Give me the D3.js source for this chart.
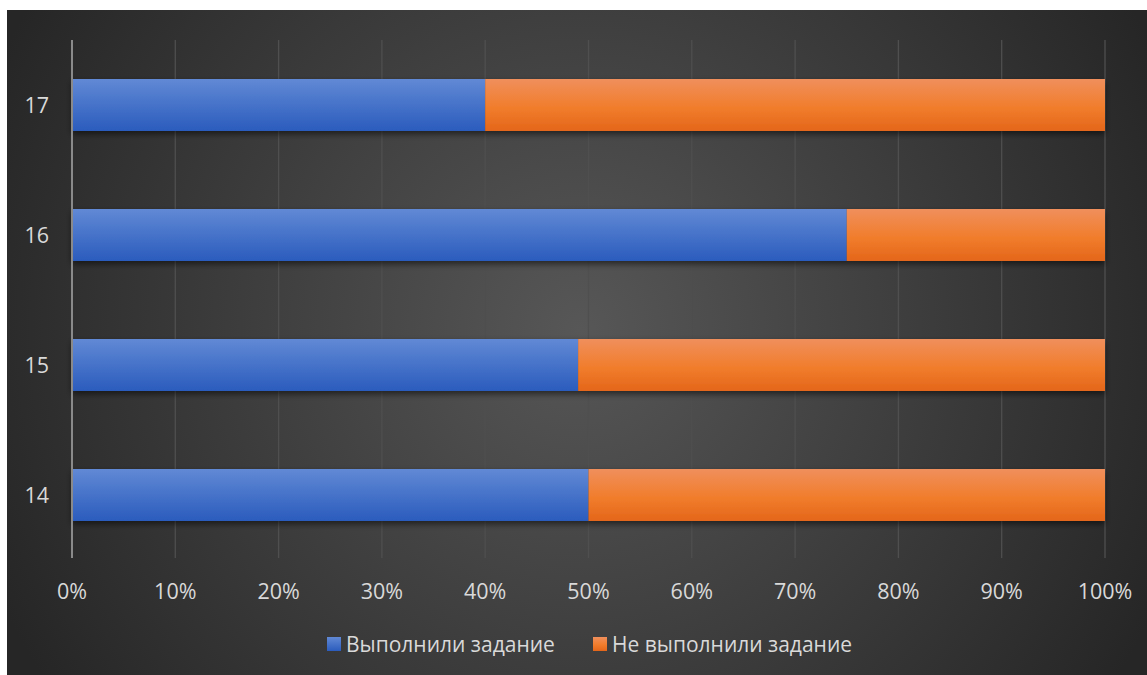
<!DOCTYPE html>
<html><head><meta charset="utf-8">
<script src="https://cdn.jsdelivr.net/npm/d3@7"></script>
<style>
html,body{margin:0;padding:0;background:#fff;}
svg{display:block;font-family:"Open Sans","Noto Sans",sans-serif;}
</style></head>
<body>
<svg id="chart" width="1147" height="675"></svg>
<script>
const categories = ["14", "15", "16", "17"];
const seriesNames = ["Выполнили задание", "Не выполнили задание"];
const doneValues = [50, 49, 75, 40];
const notDoneValues = [50, 51, 25, 60];
const xTicks = [0, 0.1, 0.2, 0.3, 0.4, 0.5, 0.6, 0.7, 0.8, 0.9, 1.0];

(function () {
const svg = d3.select("#chart");
const W = 1147, H = 675;
const defs = svg.append("defs");

const bg = defs.append("radialGradient").attr("id", "bg")
  .attr("gradientUnits", "userSpaceOnUse").attr("cx", 580).attr("cy", 330).attr("r", 640);
bg.append("stop").attr("offset", "0%").attr("stop-color", "#575757");
bg.append("stop").attr("offset", "100%").attr("stop-color", "#262626");

const gBlue = defs.append("linearGradient").attr("id", "gBlue").attr("x1", 0).attr("y1", 0).attr("x2", 0).attr("y2", 1);
gBlue.append("stop").attr("offset", "0%").attr("stop-color", "#6189d5");
gBlue.append("stop").attr("offset", "100%").attr("stop-color", "#2b5cbd");
const gOr = defs.append("linearGradient").attr("id", "gOr").attr("x1", 0).attr("y1", 0).attr("x2", 0).attr("y2", 1);
gOr.append("stop").attr("offset", "0%").attr("stop-color", "#f08f5c");
gOr.append("stop").attr("offset", "55%").attr("stop-color", "#f17d2c");
gOr.append("stop").attr("offset", "100%").attr("stop-color", "#e4661a");

const sh = defs.append("filter").attr("id", "shadow").attr("x", "-5%").attr("y", "-20%").attr("width", "110%").attr("height", "160%");
sh.append("feDropShadow").attr("dx", 0).attr("dy", 3).attr("stdDeviation", 3).attr("flood-color", "#000").attr("flood-opacity", 0.55);

svg.append("rect").attr("x", 7).attr("y", 10).attr("width", W - 7).attr("height", H - 10).attr("fill", "url(#bg)");

const pl = 72, pr = 1105, pt = 40, pb = 560;
const x = d3.scaleLinear().domain([0, 1]).range([pl, pr]);
const y = d3.scaleBand().domain(categories.slice().reverse()).range([pt, pb]).paddingInner(0.6).paddingOuter(0.3);

svg.append("g").selectAll("line").data(xTicks.slice(1)).join("line")
  .attr("x1", d => x(d)).attr("x2", d => x(d)).attr("y1", pt).attr("y2", pb - 2)
  .attr("stroke", "#4f4f4f").attr("stroke-width", 1.3);

const rows = categories.map((c, i) => ({cat: c, done: doneValues[i], not: notDoneValues[i]}));
const stack = d3.stack().keys(["done", "not"]).offset(d3.stackOffsetExpand);
const layers = stack(rows);
const fills = ["url(#gBlue)", "url(#gOr)"];
const barsG = svg.append("g");
rows.forEach((r, i) => {
  const g = barsG.append("g").attr("filter", "url(#shadow)");
  layers.forEach((layer, k) => {
    const d = layer[i];
    g.append("rect").attr("x", x(d[0])).attr("width", x(d[1]) - x(d[0]))
      .attr("y", y(r.cat)).attr("height", y.bandwidth()).attr("fill", fills[k]);
  });
});

svg.append("line").attr("x1", x(0)).attr("x2", x(0)).attr("y1", pt).attr("y2", pb - 2)
  .attr("stroke", "#8a8a8a").attr("stroke-width", 2);

svg.append("g").selectAll("text").data(xTicks).join("text")
  .attr("x", d => x(d)).attr("y", 599).attr("text-anchor", "middle")
  .attr("fill", "#d9d9d9").attr("font-size", 21.5)
  .text(d => d3.format(".0%")(d));

svg.append("g").selectAll("text").data(categories).join("text")
  .attr("x", 49).attr("y", d => y(d) + y.bandwidth() / 2 + 8).attr("text-anchor", "end")
  .attr("fill", "#d9d9d9").attr("font-size", 21.5).text(d => d);

const legend = [{name: seriesNames[0], fill: "url(#gBlue)", x: 327}, {name: seriesNames[1], fill: "url(#gOr)", x: 593}];
const lg = svg.append("g");
legend.forEach(l => {
  lg.append("rect").attr("x", l.x).attr("y", 637).attr("width", 14).attr("height", 14).attr("fill", l.fill);
  lg.append("text").attr("x", l.x + 19).attr("y", 652).attr("fill", "#d9d9d9").attr("font-size", 21).text(l.name);
});
})();
</script>
</body></html>
